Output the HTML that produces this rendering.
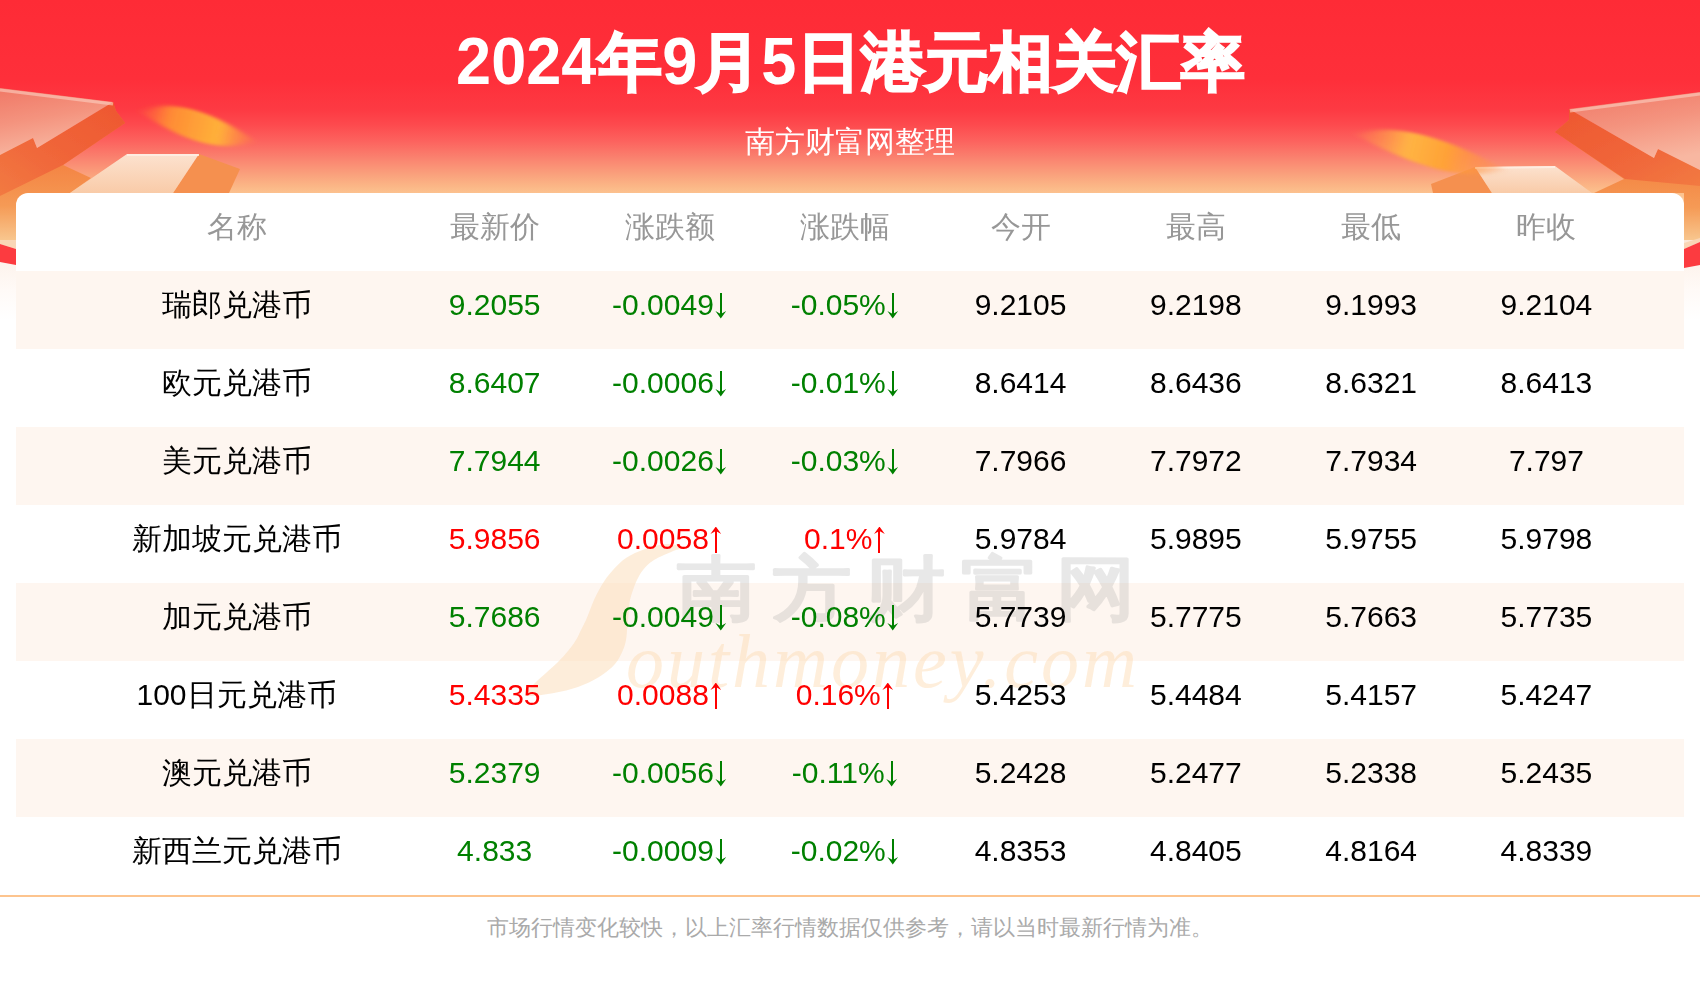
<!DOCTYPE html>
<html><head><meta charset="utf-8">
<style>
*{margin:0;padding:0;box-sizing:border-box}
html,body{width:1700px;height:1000px;overflow:hidden;background:#fff;font-family:"Liberation Sans",sans-serif}
#bg{position:absolute;left:0;top:0;width:1700px;height:320px;
 background:linear-gradient(180deg,#fe2b36 0px,#fe2f3a 80px,#fd3a43 110px,#fd4a4e 125px,#fc645f 142px,#fa826f 158px,#faa07c 174px,#fbb686 186px,#fcc390 194px,#fbe0cc 230px,#fdf3ec 262px,#fffaf7 290px,#ffffff 320px)}
#deco{position:absolute;left:0;top:0;width:1700px;height:300px}
#title{position:absolute;left:0;top:22px;width:1700px;text-align:center;color:#fff;font-weight:bold;font-size:64px;line-height:80px}
#title span{-webkit-text-stroke:2px #fff}
#title b{display:inline-block;transform:scale(0.985,1.05);transform-origin:50% 80%}
#sub{position:absolute;left:0;top:122px;width:1700px;text-align:center;color:#fff;font-size:30px;line-height:40px}
#card{position:absolute;left:16px;top:193px;width:1668px;height:702px;background:#fff;border-radius:12px 12px 0 0;overflow:hidden}
#wm{position:absolute;left:0;top:0;width:1700px;height:1000px;pointer-events:none}
table{position:absolute;left:50px;top:0;border-collapse:collapse;table-layout:fixed;width:1568px}
td,th{height:78px;text-align:center;font-size:30px;font-weight:normal;white-space:nowrap;padding:0 0 11px 0;line-height:30px}
th{color:#979797}
td{color:#000}
.stripe{position:absolute;left:0;width:1668px;height:78px;background:#fef6f0}
.g{color:#008000}
.r{color:#ff0000}
.a{display:inline-block;position:relative;width:14px;height:26px;vertical-align:-4px;margin-left:0px}
.a::before{content:"";position:absolute;left:6px;width:2px;background:currentColor}
.a::after{content:"";position:absolute;left:1.6px;width:10.8px;height:7.4px;background:currentColor}
.d::before{top:0;height:22px}
.d::after{bottom:0;clip-path:polygon(0 0,50% 38%,100% 0,50% 100%)}
.u::before{bottom:0;height:22px}
.u::after{top:0;clip-path:polygon(50% 0,100% 100%,50% 62%,0 100%)}
#line{position:absolute;left:0;top:895px;width:1700px;height:2px;background:#fdc48e}
#foot{position:absolute;left:0;top:912px;width:1700px;text-align:center;color:#aaa;font-size:22px;line-height:32px}
</style></head><body>
<div id="bg"></div>
<svg id="deco" width="1700" height="300" viewBox="0 0 1700 300">
<defs>
<linearGradient id="lt" x1="0" y1="0" x2="0.3" y2="1"><stop offset="0" stop-color="#f07866"/><stop offset="0.5" stop-color="#f4937e"/><stop offset="1" stop-color="#f8b7a1"/></linearGradient>
<linearGradient id="ls" x1="0" y1="0" x2="0" y2="1"><stop offset="0" stop-color="#f06a36"/><stop offset="0.45" stop-color="#f48443"/><stop offset="0.75" stop-color="#f59a55"/><stop offset="1" stop-color="#f8c68e"/></linearGradient>
<linearGradient id="band" x1="1" y1="0" x2="0" y2="1"><stop offset="0" stop-color="#ee5630"/><stop offset="0.6" stop-color="#f0673a"/><stop offset="1" stop-color="#f27a42"/></linearGradient>
<linearGradient id="bandR" x1="0" y1="0" x2="1" y2="1"><stop offset="0" stop-color="#ee5630"/><stop offset="0.6" stop-color="#f0673a"/><stop offset="1" stop-color="#f27a42"/></linearGradient>
<linearGradient id="sl" x1="0" y1="0" x2="0" y2="1"><stop offset="0" stop-color="#fce2cf"/><stop offset="1" stop-color="#f9cba8"/></linearGradient>
<radialGradient id="coin"><stop offset="0" stop-color="#ffb638"/><stop offset="0.6" stop-color="#ff8f33"/><stop offset="1" stop-color="#ff6a3a" stop-opacity="0"/></radialGradient>
<filter id="bl" x="-30%" y="-60%" width="160%" height="220%"><feGaussianBlur stdDeviation="3"/></filter>
<linearGradient id="coinL" x1="0" y1="0" x2="1" y2="0"><stop offset="0" stop-color="#ff6a3a" stop-opacity="0.2"/><stop offset="0.25" stop-color="#ff8a34"/><stop offset="0.7" stop-color="#ffb23a"/><stop offset="1" stop-color="#ff8a40" stop-opacity="0.3"/></linearGradient>
<linearGradient id="coinR" x1="0" y1="0" x2="1" y2="0"><stop offset="0" stop-color="#ff8a50" stop-opacity="0.2"/><stop offset="0.35" stop-color="#ffb443"/><stop offset="0.6" stop-color="#ffa236"/><stop offset="1" stop-color="#ff8a48" stop-opacity="0.2"/></linearGradient>
<filter id="mb" x="-30%" y="-80%" width="160%" height="260%"><feGaussianBlur stdDeviation="5 1.6"/></filter>
<filter id="bl1"><feGaussianBlur stdDeviation="0.6"/></filter>
</defs>
<g filter="url(#bl1)">
<!-- left orange mass -->
<polygon points="0,150 33,138 37,148 113,102 116,111 125,123 63,165 91,178 70,193 40,215 16,240 0,240" fill="url(#ls)"/>
<polygon points="33,138 37,148 113,102 116,111 125,123 63,165 0,196 0,155" fill="url(#band)"/>
<polygon points="0,88 113,102 37,148 33,138 0,155" fill="url(#lt)"/>
<polygon points="0,240 16,240 16,249 0,244" fill="#f9d6b6"/>
<polygon points="0,244 16,249 16,265 0,262" fill="#fc3b41"/>
<polyline points="0,90 113,104" stroke="#fcd0c2" stroke-width="3" fill="none" opacity="0.6" filter="url(#bl1)"/>
<!-- left slab -->
<polygon points="199,154 240,169 229,193 173,193" fill="#f5904f"/>
<polygon points="127,154 199,154 173,193 70,193" fill="url(#sl)"/>
<polyline points="127,155 199,155" stroke="#fff0e6" stroke-width="2" opacity="0.8"/>
<!-- right orange mass -->
<polygon points="1700,170 1658,149 1654,158 1569,109 1569,120 1555,132 1624,179 1594,193 1684,193 1684,240 1700,240" fill="url(#ls)"/>
<polygon points="1654,158 1658,149 1700,170 1700,186 1625,179 1555,132 1569,120 1569,109" fill="url(#bandR)"/>
<polygon points="1569,109 1700,92 1700,170 1658,149 1654,158" fill="url(#lt)"/>
<polygon points="1684,243 1700,238 1700,242 1684,249" fill="#f9d6b6"/>
<polygon points="1684,249 1700,242 1700,265 1684,268" fill="#fc3b41"/>
<polyline points="1570,111 1700,94" stroke="#fcd0c2" stroke-width="3" fill="none" opacity="0.6" filter="url(#bl1)"/>
<!-- right slab -->
<polygon points="1475,167 1431,184 1433,193 1492,193" fill="#f5904f"/>
<polygon points="1475,167 1555,166 1592,193 1492,193" fill="url(#sl)"/>
<polyline points="1475,168 1555,167" stroke="#fff0e6" stroke-width="2" opacity="0.8"/>
</g>
<g transform="translate(197 126) rotate(14)"><path d="M-58,0 Q-20,-30 58,0 Q20,30 -58,0 Z" fill="url(#coinL)" filter="url(#mb)"/></g>
<g transform="translate(1430 152) rotate(13)"><path d="M-76,0 Q-30,-30 76,0 Q30,30 -76,0 Z" fill="url(#coinR)" filter="url(#mb)"/></g>
</svg>
<div id="title"><b>2024</b><span>年</span><b>9</b><span>月</span><b>5</b><span>日港元相关汇率</span></div>
<div id="sub">南方财富网整理</div>
<div id="card">
<div class="stripe" style="top:78px"></div>
<div class="stripe" style="top:234px"></div>
<div class="stripe" style="top:390px"></div>
<div class="stripe" style="top:546px"></div>
<svg id="wmk" width="1668" height="702" viewBox="16 193 1668 702" style="position:absolute;left:0;top:0">
<path d="M686.0,548.0 C684.5,547.0 673.8,543.8 667.0,544.0 C660.2,544.2 651.8,546.7 645.0,549.0 C638.2,551.3 631.3,554.5 626.0,558.0 C620.7,561.5 616.5,566.3 613.0,570.0 C609.5,573.7 607.3,576.7 605.0,580.0 C602.7,583.3 600.8,586.7 599.0,590.0 C597.2,593.3 595.5,596.7 594.0,600.0 C592.5,603.3 591.3,606.7 590.0,610.0 C588.7,613.3 587.5,616.7 586.0,620.0 C584.5,623.3 582.7,626.7 581.0,630.0 C579.3,633.3 578.2,636.5 576.0,640.0 C573.8,643.5 571.0,647.3 568.0,651.0 C565.0,654.7 561.7,658.3 558.0,662.0 C554.3,665.7 549.8,669.5 546.0,673.0 C542.2,676.5 538.2,679.8 535.0,683.0 C531.8,686.2 527.8,689.8 527.0,692.0 C526.2,694.2 525.5,695.8 530.0,696.0 C534.5,696.2 546.0,694.5 554.0,693.0 C562.0,691.5 570.5,689.7 578.0,687.0 C585.5,684.3 592.8,680.8 599.0,677.0 C605.2,673.2 611.0,668.5 615.0,664.0 C619.0,659.5 621.2,654.0 623.0,650.0 C624.8,646.0 625.3,643.3 626.0,640.0 C626.7,636.7 626.7,633.3 627.0,630.0 C627.3,626.7 627.7,623.3 628.0,620.0 C628.3,616.7 628.7,613.3 629.0,610.0 C629.3,606.7 629.3,603.3 630.0,600.0 C630.7,596.7 631.8,593.3 633.0,590.0 C634.2,586.7 635.3,583.3 637.0,580.0 C638.7,576.7 640.2,573.3 643.0,570.0 C645.8,566.7 648.5,563.3 654.0,560.0 C659.5,556.7 670.7,552.0 676.0,550.0 C681.3,548.0 687.5,549.0 686.0,548.0Z" fill="#fcdcb8" fill-opacity="0.52"/>
<text x="626" y="687" font-family="Liberation Serif" font-style="italic" font-size="76" letter-spacing="3" fill="#fdd9b0" fill-opacity="0.45">outhmoney.com</text>
<g opacity="0.22"><text x="0" y="0" font-family="Liberation Sans, sans-serif" font-weight="normal" font-size="80" letter-spacing="15" fill="#999" stroke="#999" stroke-width="3.5" stroke-linejoin="round" transform="translate(677 613) scale(1 0.88)">南方财富网</text></g>
</svg>
<table>
<colgroup><col style="width:341px"><col style="width:175.3px"><col style="width:175.3px"><col style="width:175.3px"><col style="width:175.3px"><col style="width:175.3px"><col style="width:175.3px"><col style="width:175.3px"></colgroup>
<tr><th>名称</th><th>最新价</th><th>涨跌额</th><th>涨跌幅</th><th>今开</th><th>最高</th><th>最低</th><th>昨收</th></tr>
<tr><td>瑞郎兑港币</td><td class="g">9.2055</td><td class="g">-0.0049<i class="a d"></i></td><td class="g">-0.05%<i class="a d"></i></td><td>9.2105</td><td>9.2198</td><td>9.1993</td><td>9.2104</td></tr>
<tr><td>欧元兑港币</td><td class="g">8.6407</td><td class="g">-0.0006<i class="a d"></i></td><td class="g">-0.01%<i class="a d"></i></td><td>8.6414</td><td>8.6436</td><td>8.6321</td><td>8.6413</td></tr>
<tr><td>美元兑港币</td><td class="g">7.7944</td><td class="g">-0.0026<i class="a d"></i></td><td class="g">-0.03%<i class="a d"></i></td><td>7.7966</td><td>7.7972</td><td>7.7934</td><td>7.797</td></tr>
<tr><td>新加坡元兑港币</td><td class="r">5.9856</td><td class="r">0.0058<i class="a u"></i></td><td class="r">0.1%<i class="a u"></i></td><td>5.9784</td><td>5.9895</td><td>5.9755</td><td>5.9798</td></tr>
<tr><td>加元兑港币</td><td class="g">5.7686</td><td class="g">-0.0049<i class="a d"></i></td><td class="g">-0.08%<i class="a d"></i></td><td>5.7739</td><td>5.7775</td><td>5.7663</td><td>5.7735</td></tr>
<tr><td>100日元兑港币</td><td class="r">5.4335</td><td class="r">0.0088<i class="a u"></i></td><td class="r">0.16%<i class="a u"></i></td><td>5.4253</td><td>5.4484</td><td>5.4157</td><td>5.4247</td></tr>
<tr><td>澳元兑港币</td><td class="g">5.2379</td><td class="g">-0.0056<i class="a d"></i></td><td class="g">-0.11%<i class="a d"></i></td><td>5.2428</td><td>5.2477</td><td>5.2338</td><td>5.2435</td></tr>
<tr><td>新西兰元兑港币</td><td class="g">4.833</td><td class="g">-0.0009<i class="a d"></i></td><td class="g">-0.02%<i class="a d"></i></td><td>4.8353</td><td>4.8405</td><td>4.8164</td><td>4.8339</td></tr>
</table>
</div>
<div id="line"></div>
<div id="foot">市场行情变化较快，以上汇率行情数据仅供参考，请以当时最新行情为准。</div>
</body></html>
